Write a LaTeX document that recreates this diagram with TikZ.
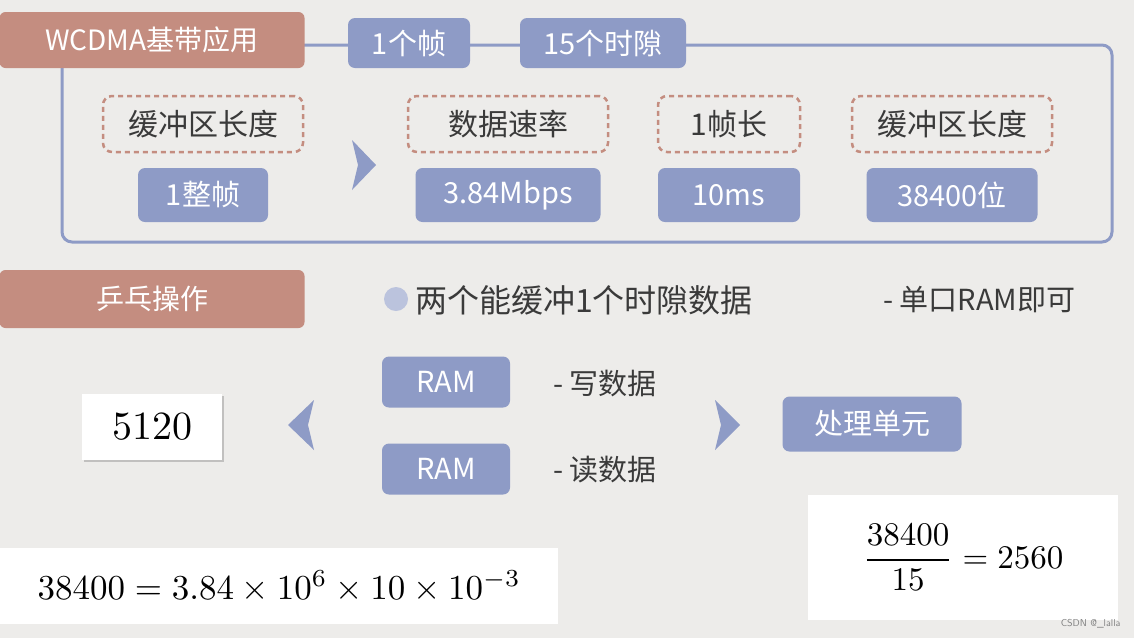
\documentclass[tikz,border=0pt]{standalone}
\usepackage{fontspec}
\usepackage{graphicx}
\newfontfamily\cjk{Noto Sans CJK SC}
\usetikzlibrary{shadows}
\definecolor{bg}{HTML}{EDECEA}
\definecolor{salm}{HTML}{C48D80}
\definecolor{blu}{HTML}{8E9BC6}
\definecolor{txt}{HTML}{3A3A3A}
\begin{document}
\begin{tikzpicture}[x=1pt,y=-1pt,
 tag/.style={fill=salm,rounded corners=6pt,text=white,font=\cjk\fontsize{28}{30}\selectfont,inner sep=0pt},
 bbox/.style={fill=blu,rounded corners=7pt,text=white,font=\cjk\fontsize{29}{30}\selectfont,inner sep=0pt},
 dbox/.style={draw=salm,dashed,line width=2.5pt,dash pattern=on 5pt off 4pt,rounded corners=9pt,text=txt,font=\cjk\fontsize{30}{30}\selectfont,inner sep=0pt},
 plain/.style={text=txt,font=\cjk\fontsize{29}{30}\selectfont,inner sep=0pt},
 chev/.style={fill=blu,draw=none}]
\fill[bg] (0,0) rectangle (1134,638);
\useasboundingbox (0,0) rectangle (1134,638);
\draw[blu,line width=3pt,rounded corners=10pt] (62,45) rectangle (1112,242);
\node[tag,minimum width=305pt,minimum height=56pt] (t1) at (152,40) {WCDMA基带应用};
\node[bbox,minimum width=122pt,minimum height=50pt] (f1) at (409,43) {1个帧};
\node[bbox,minimum width=166pt,minimum height=50pt] (f2) at (603,43) {15个时隙};
\node[dbox,minimum width=200pt,minimum height=56pt] (d1) at (203,124) {缓冲区长度};
\node[dbox,minimum width=200pt,minimum height=56pt] (d2) at (508,124) {数据速率};
\node[dbox,minimum width=142pt,minimum height=56pt] (d3) at (729,124) {1帧长};
\node[dbox,minimum width=200pt,minimum height=56pt] (d4) at (952,124) {缓冲区长度};
\node[bbox,minimum width=130pt,minimum height=54pt] (b1) at (203,195) {1整帧};
\node[bbox,minimum width=185pt,minimum height=54pt] (b2) at (508,195) {3.84Mbps};
\node[bbox,minimum width=142pt,minimum height=54pt] (b3) at (729,195) {10ms};
\node[bbox,minimum width=171pt,minimum height=54pt] (b4) at (952,195) {38400位};
\fill[chev] (352,140) -- (376,165) -- (352,190) -- (358,165) -- cycle;
\node[tag,minimum width=305pt,minimum height=58pt] (t2) at (152,299) {乒乓操作};
\fill[blu!60] (396,299) circle (12pt);
\node[plain,anchor=west,font=\cjk\fontsize{32}{34}\selectfont] (l1) at (415,300) {两个能缓冲1个时隙数据};
\node[plain,anchor=west] (l2) at (883,300) {- 单口RAM即可};
\node[bbox,minimum width=128pt,minimum height=51pt] (r1) at (446,382) {RAM};
\node[bbox,minimum width=128pt,minimum height=51pt] (r2) at (446,469) {RAM};
\node[plain,anchor=west] (w) at (553,383) {- 写数据};
\node[plain,anchor=west] (rd) at (553,470) {- 读数据};
\fill[chev] (314,400) -- (288,425) -- (314,450) -- (308,425) -- cycle;
\fill[chev] (715,400) -- (740,425) -- (715,450) -- (721,425) -- cycle;
\node[bbox,minimum width=179pt,minimum height=55pt] (p) at (872,424) {处理单元};
\node[fill=white,drop shadow={shadow xshift=2pt,shadow yshift=-2pt,opacity=.4},minimum width=140pt,minimum height=66pt,inner sep=0pt] (n) at (152,427) {\scalebox{4}{5120}};
\node[fill=white,minimum width=558pt,minimum height=76pt,anchor=north west,inner sep=0pt] (e1) at (0,548) {\scalebox{3.5}{$38400=3.84\times10^6\times10\times10^{-3}$}};
\node[fill=white,minimum width=310pt,minimum height=125pt,anchor=north west,inner sep=0pt] (e2) at (808,495) {\scalebox{3.3}{$\displaystyle\frac{38400}{15}=2560$}};
\node[anchor=east,text=gray,font=\fontsize{10}{12}\selectfont\sffamily] (wm) at (1124,624) {CSDN @\_lalla};
\end{tikzpicture}
\end{document}
